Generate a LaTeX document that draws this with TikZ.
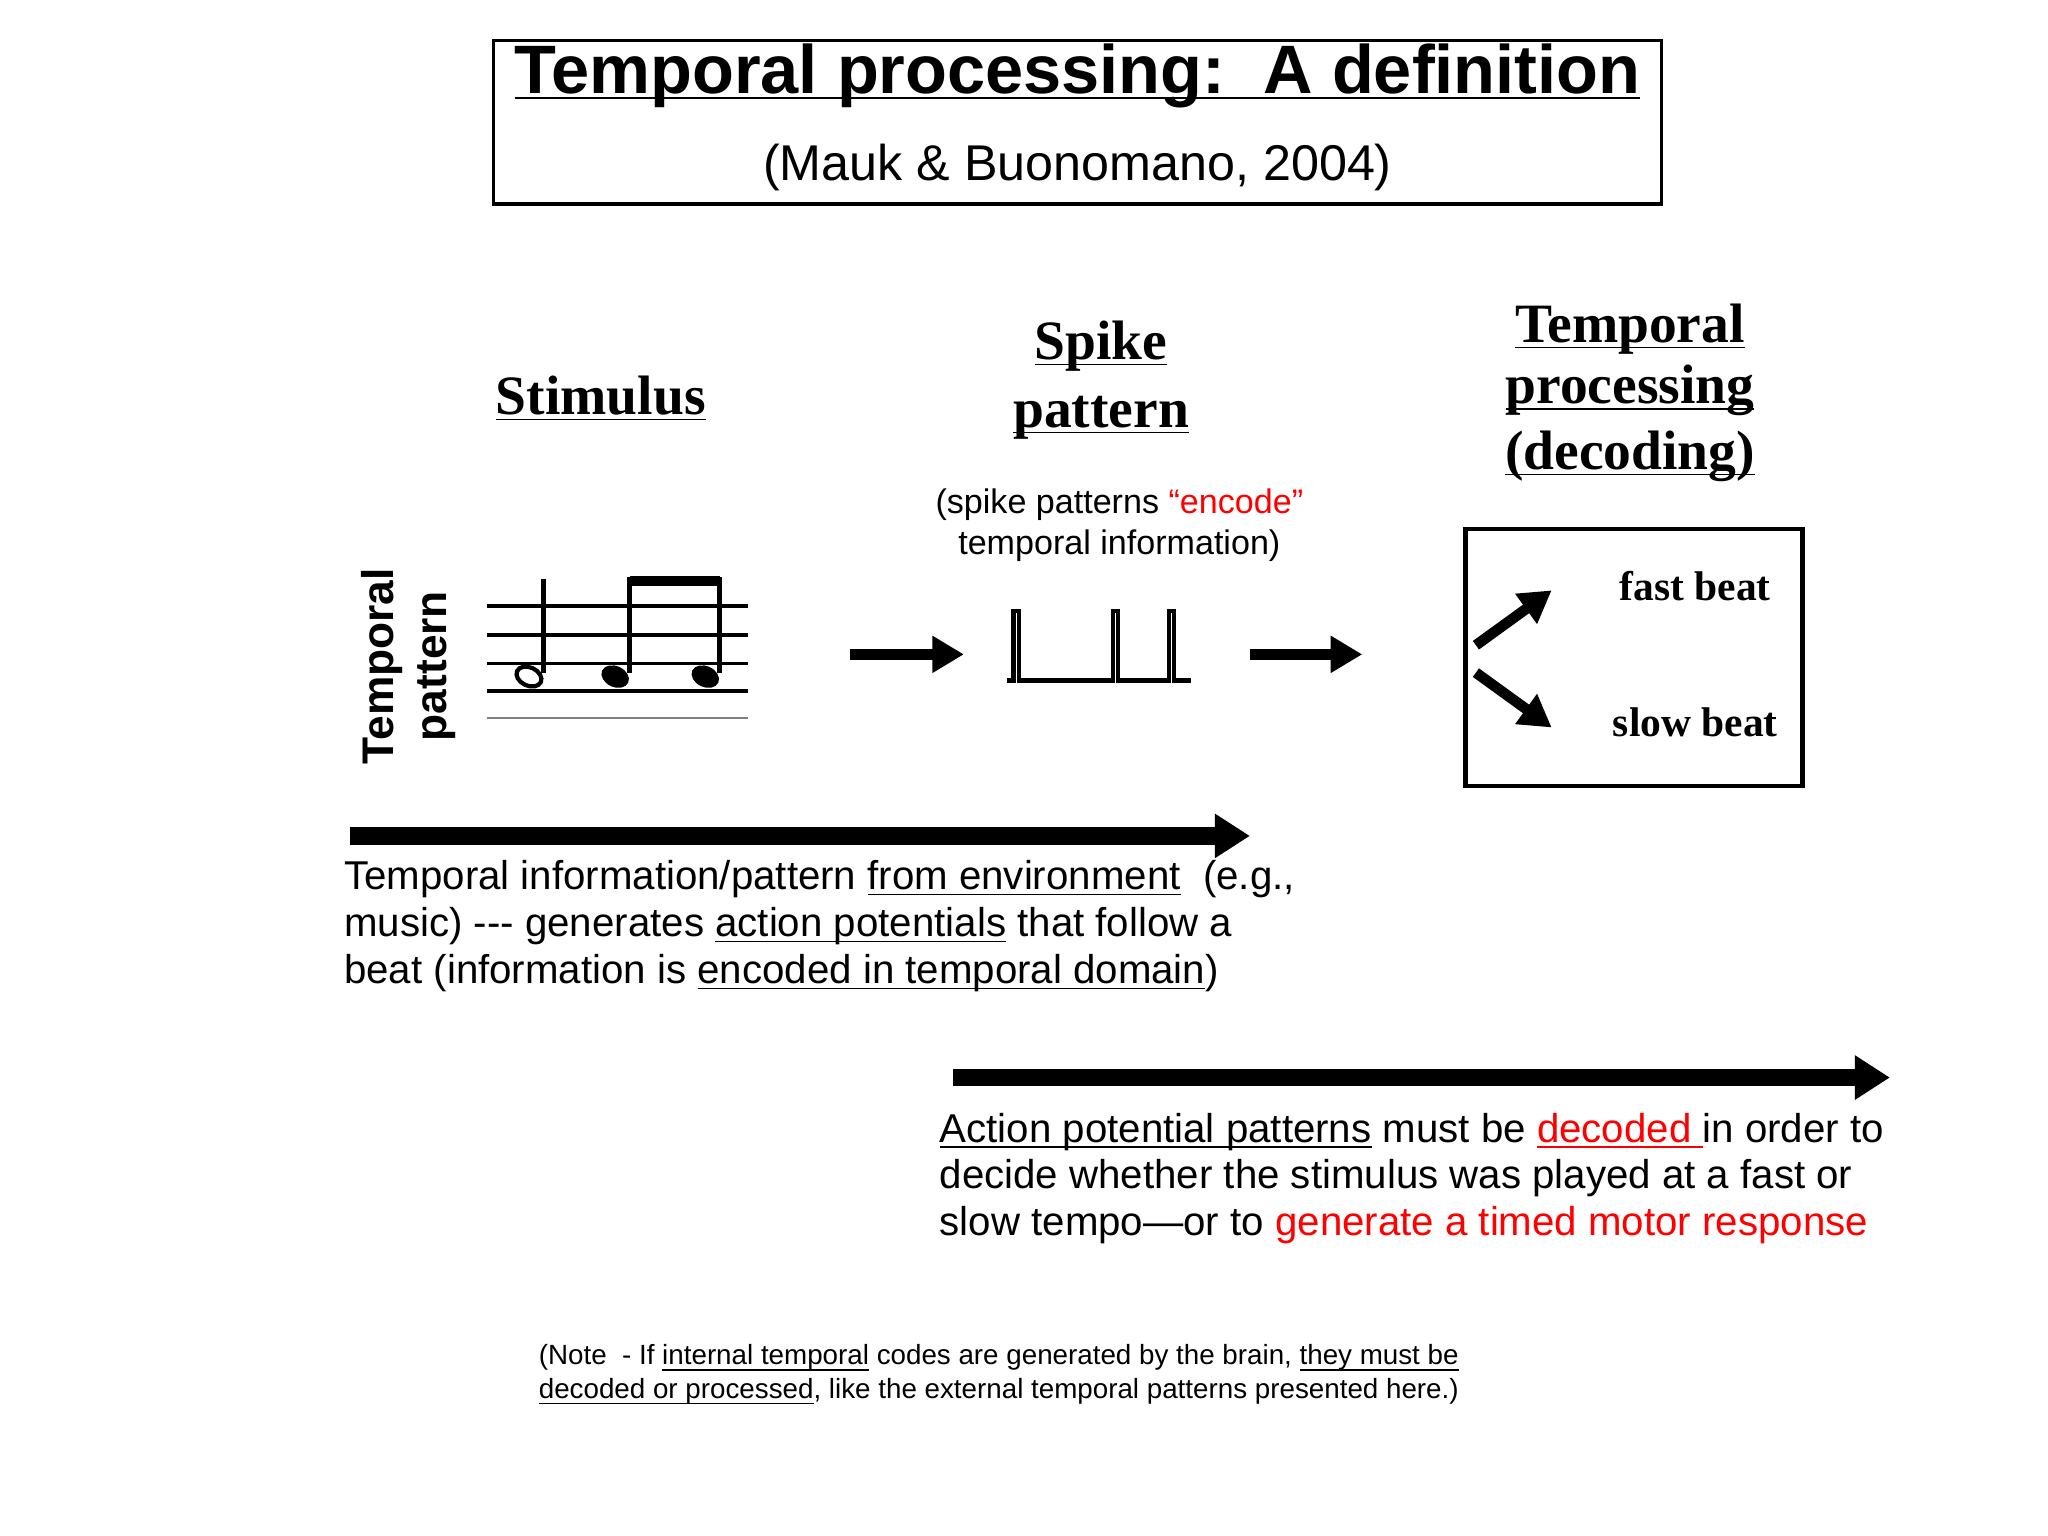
\documentclass[tikz,border=0pt]{standalone}
\usepackage{fontspec}
\setmainfont{Liberation Sans}
\newfontfamily\serifb{Liberation Serif}
\usetikzlibrary{arrows.meta}
\newcommand\myul[1]{\underline{\smash{#1}}}
\begin{document}
\begin{tikzpicture}[x=0.013061cm,y=-0.013061cm,
  body/.style={font=\fontsize{11.45}{13.6}\selectfont,anchor=west,inner sep=0},
  head/.style={font=\serifb\bfseries\fontsize{15.8}{18}\selectfont,inner sep=0},
  beat/.style={font=\serifb\bfseries\fontsize{11.8}{14}\selectfont,inner sep=0},
  bigarrow/.style={line width=5pt,-{Triangle[length=10pt,width=12pt]}},
  smallarrow/.style={line width=3pt,-{Triangle[length=9pt,width=10pt]}},
  staff/.style={line width=1pt}]
\useasboundingbox (0,0) rectangle (1568,1176);
\draw[line width=1pt] (378,31) rectangle (1272,156);
\node[font=\bfseries\fontsize{19.5}{22}\selectfont] (title) at (825,74) {\myul{Temporal processing:\ \ A definition}};
\node[font=\fontsize{14.3}{16}\selectfont] (sub) at (825,128) {(Mauk \& Buonomano, 2004)};
\node[head] (stim) at (460,320) {\myul{Stimulus}};
\node[head] (sp1) at (843,278) {\myul{Spike}};
\node[head] (sp2) at (843,330) {\myul{pattern}};
\node[font=\fontsize{9.7}{11.7}\selectfont,align=center] (enc) at (857,402) {(spike patterns \textcolor{red}{“encode”}\\temporal information)};
\node[head] (tp1) at (1248,265) {\myul{Temporal}};
\node[head] (tp2) at (1248,312) {\myul{processing}};
\node[head] (tp3) at (1248,362) {\myul{(decoding)}};
\draw[line width=1.2pt] (1122,405) rectangle (1380,602);
\node[beat] (fast) at (1298,449) {fast beat};
\node[beat] (slow) at (1298,553) {slow beat};
\coordinate (fa) at (1130,494); \coordinate (fb) at (1188,452);
\coordinate (sa) at (1130,515); \coordinate (sb) at (1188,557);
\draw[smallarrow] (fa) -- (fb);
\draw[smallarrow] (sa) -- (sb);
\node[font=\bfseries\fontsize{12.6}{15}\selectfont,rotate=90,align=center] (tpat) at (313,510) {Temporal\\pattern};
\foreach \yy in {464,486,508,529} \draw[staff] (373,\yy) -- (573,\yy);
\draw[line width=0.5pt,gray] (373,550) -- (573,550);
\draw[line width=1.2pt,rotate around={-25:(405,518)}] (405,518) ellipse (10 and 7);
\draw[line width=1.3pt] (416,515) -- (416,443);
\fill[rotate around={-25:(471,518)}] (471,518) ellipse (11 and 8);
\fill[rotate around={-25:(540,518)}] (540,518) ellipse (11 and 8);
\draw[line width=1.3pt] (482,515) -- (482,442);
\draw[line width=1.3pt] (551,515) -- (551,442);
\fill (482,441) rectangle (551,449);
\coordinate (a1s) at (651,501); \coordinate (a1e) at (738,501);
\draw[smallarrow] (a1s) -- (a1e);
\draw[line width=1.2pt] (771,521) -- (776,521) -- (776,468) -- (780,468) -- (780,521) -- (852,521) -- (852,468) -- (856,468) -- (856,521) -- (895,521) -- (895,468) -- (899,468) -- (899,521) -- (912,521);
\coordinate (a2s) at (957,501); \coordinate (a2e) at (1043,501);
\draw[smallarrow] (a2s) -- (a2e);
\coordinate (l1s) at (268,640); \coordinate (l1e) at (957,640);
\draw[bigarrow] (l1s) -- (l1e);
\node[body] (t1) at (263,673) {Temporal information/pattern \myul{from environment}\ \ (e.g.,};
\node[body] (t2) at (263,709) {music) -{}-{}- generates \myul{action potentials} that follow a};
\node[body] (t3) at (263,745) {beat (information is \myul{encoded in temporal domain})};
\coordinate (l2s) at (730,825); \coordinate (l2e) at (1447,825);
\draw[bigarrow] (l2s) -- (l2e);
\node[body] (u1) at (719,866) {\myul{Action potential patterns} must be \textcolor{red}{\myul{decoded }}in order to};
\node[body] (u2) at (719,902) {decide whether the stimulus was played at a fast or};
\node[body] (u3) at (719,938) {slow tempo—or to \textcolor{red}{generate a timed motor response}};
\node[font=\fontsize{7.9}{9.6}\selectfont,anchor=west,inner sep=0] (n1) at (412,1040) {(Note\ \ - If \myul{internal temporal} codes are generated by the brain, \myul{they must be}};
\node[font=\fontsize{7.9}{9.6}\selectfont,anchor=west,inner sep=0] (n2) at (412,1066) {\myul{decoded or processed}, like the external temporal patterns presented here.)};
\end{tikzpicture}
\end{document}
